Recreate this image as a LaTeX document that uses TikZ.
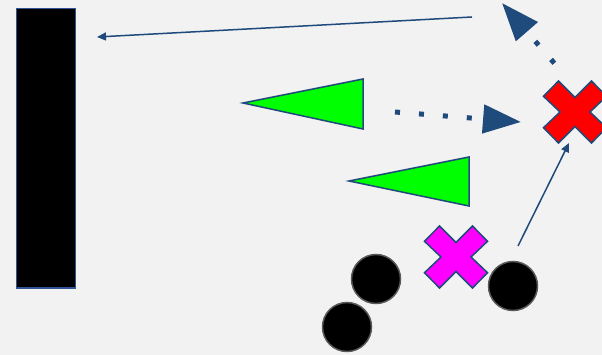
\documentclass[tikz,border=0pt]{standalone}
\usetikzlibrary{arrows.meta}
\definecolor{bg}{HTML}{F2F2F2}
\definecolor{navy}{HTML}{1F4A7C}
\definecolor{rimblue}{HTML}{2F5597}
\definecolor{dotgrey}{HTML}{595959}
\definecolor{lgreen}{HTML}{00FF00}
\definecolor{xred}{HTML}{FF0000}
\definecolor{xmag}{HTML}{FF00FF}
\tikzset{
  thinarrow/.style={draw=navy, line width=1.5pt, -{Triangle[length=9pt,width=8pt]}},
  dotarrow/.style={draw=navy, line width=5pt, dash pattern=on 5pt off 19pt, -{Triangle[length=38pt,width=28pt]}},
  ball/.style={circle, fill=black, draw=dotgrey, line width=1.5pt, minimum size=49pt, inner sep=0pt},
  greentri/.style={fill=lgreen, draw=navy, line width=1.5pt, line join=miter},
  crossmark/.style={draw=navy, line width=1.5pt, line join=miter}
}
\begin{document}
\begin{tikzpicture}[x=1pt,y=-1pt]
\useasboundingbox (0,0) rectangle (602,355);
\fill[bg] (0,0) rectangle (602,355);
% bar
\node[fill=black, draw=rimblue, line width=1.5pt, minimum width=59pt, minimum height=279pt, inner sep=0pt, anchor=north west] (bar) at (15.5,8) {};
% green triangles
\draw[greentri] (243,103) -- (363,79) -- (363,129) -- cycle;
\draw[greentri] (349,181) -- (469,157) -- (469,206) -- cycle;
% crosses
\coordinate (redx) at (575,112);
\coordinate (magx) at (456,257);
\foreach \c/\col in {redx/xred, magx/xmag}{
  \draw[crossmark, fill=\col, shift={(\c)}]
    (-16.5,-31) -- (0,-14.5) -- (16.5,-31) -- (31.5,-15.7) -- (15,0) -- (31.5,15.7)
    -- (16.5,31) -- (0,14.5) -- (-16.5,31) -- (-31.5,15.7) -- (-15,0) -- (-31.5,-15.7) -- cycle;
}
% balls
\node[ball] (b1) at (376,279) {};
\node[ball] (b2) at (347,327) {};
\node[ball] (b3) at (513,286) {};
% connectors
\coordinate (ts) at (472,17);
\coordinate (te) at (97,37);
\draw[thinarrow] (ts) -- (te);
\coordinate (us) at (518,246);
\coordinate (ue) at (569,143);
\draw[thinarrow] (us) -- (ue);
\coordinate (ds1) at (555,64);
\coordinate (de1) at (502,3);
\draw[dotarrow, dash phase=-1pt] (ds1) -- (de1);
\coordinate (ds2) at (395,112);
\coordinate (de2) at (521,122);
\draw[dotarrow] (ds2) -- (de2);
\end{tikzpicture}
\end{document}
